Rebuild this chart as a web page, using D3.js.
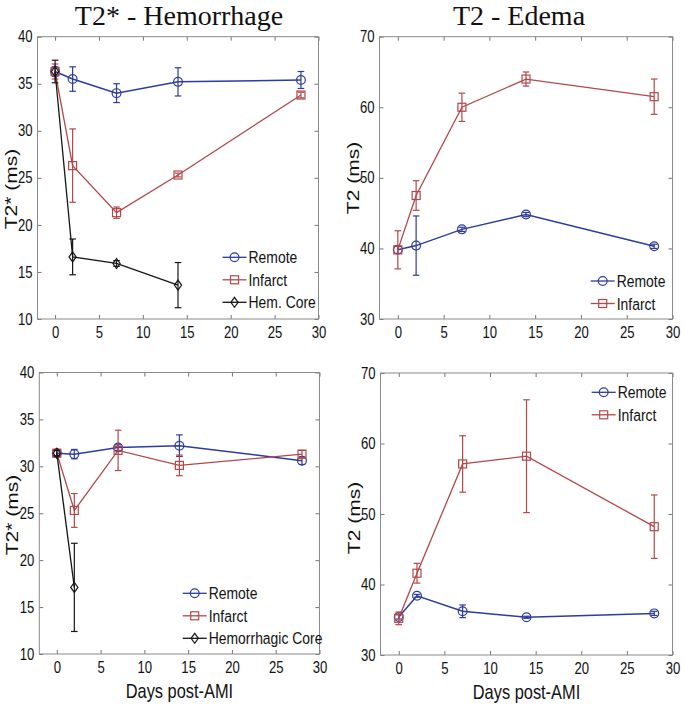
<!DOCTYPE html>
<html><head><meta charset="utf-8">
<script src="https://cdn.jsdelivr.net/npm/d3@7"></script>
<style>
body{margin:0;background:#fff}
svg text{font-family:"Liberation Sans",Arial,sans-serif;fill:#111}
svg text.title{font-family:"Liberation Serif","Times New Roman",serif}
</style></head><body><svg id="c" width="685" height="713"></svg>
<script>
// ---------- data ----------
const days = [0, 2, 7, 14, 28];
const hemDays1 = [0, 2, 7, 14];
const hemDays3 = [0, 2];
const xTicks = [0, 5, 10, 15, 20, 25, 30];
const t2sTicks = [10, 15, 20, 25, 30, 35, 40];
const t2Ticks = [30, 40, 50, 60, 70];

// Top-left: T2* - Hemorrhage
const remote1 = [36.3, 35.5, 34.0, 35.2, 35.4];
const remote1Err = [0.5, 1.3, 1.0, 1.5, 0.9];
const infarct1 = [36.3, 26.3, 21.3, 25.3, 33.8];
const infarct1Err = [0.8, 3.9, 0.6, 0.2, 0.3];
const hem1 = [36.3, 16.6, 15.9, 13.6];
const hem1Err = [1.2, 1.9, 0.3, 2.4];

// Top-right: T2 - Edema
const remote2 = [39.8, 40.4, 42.7, 44.8, 40.3];
const remote2Err = [0.5, 4.2, 0.3, 0.3, 0.3];
const infarct2 = [39.8, 47.5, 60.0, 64.0, 61.5];
const infarct2Err = [2.7, 2.1, 2.0, 1.0, 2.5];

// Bottom-left: T2*
const remote3 = [31.4, 31.3, 32.0, 32.2, 30.6];
const remote3Err = [0.3, 0.5, 0.3, 1.15, 0.4];
const infarct3 = [31.4, 25.3, 31.7, 30.1, 31.3];
const infarct3Err = [0.3, 1.8, 2.15, 1.1, 0.4];
const hem3 = [31.4, 17.1];
const hem3Err = [0.3, 4.7];

// Bottom-right: T2
const remote4 = [35.4, 38.4, 36.2, 35.35, 35.9];
const remote4Err = [0.3, 0.2, 0.9, 0.15, 0.3];
const infarct4 = [35.2, 41.6, 57.1, 58.2, 48.2];
const infarct4Err = [0.9, 1.4, 4.0, 8.0, 4.5];

const titles = ["T2* - Hemorrhage", "T2 - Edema"];
const xLabel = "Days post-AMI";

// ---------- styles ----------
const BLUE = "#2d3c9e", RED = "#b4474a", BLACK = "#161616";
const SQ = 0.82; // horizontal squeeze of the sans-serif text

const svg = d3.select("#c");

function mk(name, color, marker, xs, ys, es) {
  return {name, color, marker, pts: xs.map((x, i) => ({x, y: ys[i], e: es[i]}))};
}

// apply horizontal squeeze keeping the anchor point
function squeeze(sel) {
  sel.each(function () {
    const t = d3.select(this);
    const xx = +(t.attr("x") || 0), yy = +(t.attr("y") || 0);
    t.attr("x", 0).attr("y", 0).attr("transform", `translate(${xx},${yy}) scale(${SQ},1)`);
  });
}

const panels = [
  {box: [37.5, 318.5, 36.7, 319], ydom: [10, 40], yticks: t2sTicks, ylabel: "T2* (ms)", ylabelY: 189,
   title: titles[0], titleX: 179,
   series: [mk("Remote", BLUE, "o", days, remote1, remote1Err), mk("Infarct", RED, "s", days, infarct1, infarct1Err), mk("Hem. Core", BLACK, "d", hemDays1, hem1, hem1Err)],
   legend: {x: 222.5, y: 257.3}},
  {box: [379.5, 672.5, 36.7, 319], ydom: [30, 70], yticks: t2Ticks, ylabel: "T2 (ms)", ylabelY: 178,
   title: titles[1], titleX: 519,
   series: [mk("Remote", BLUE, "o", days, remote2, remote2Err), mk("Infarct", RED, "s", days, infarct2, infarct2Err)],
   legend: {x: 590.7, y: 281}},
  {box: [39.3, 319.5, 372.5, 654], ydom: [10, 40], yticks: t2sTicks, ylabel: "T2* (ms)", ylabelY: 515,
   xlabel: xLabel,
   series: [mk("Remote", BLUE, "o", days, remote3, remote3Err), mk("Infarct", RED, "s", days, infarct3, infarct3Err), mk("Hemorrhagic Core", BLACK, "d", hemDays3, hem3, hem3Err)],
   legend: {x: 182.7, y: 593.3}},
  {box: [380.5, 672.5, 373, 655], ydom: [30, 70], yticks: t2Ticks, ylabel: "T2 (ms)", ylabelY: 518,
   xlabel: xLabel,
   series: [mk("Remote", BLUE, "o", days, remote4, remote4Err), mk("Infarct", RED, "s", days, infarct4, infarct4Err)],
   legend: {x: 591.7, y: 392.3}}
];

function drawMarker(g, type, cx, cy, color) {
  if (type === "o") {
    g.append("circle").attr("cx", cx).attr("cy", cy).attr("r", 4.4)
      .attr("fill", "none").attr("stroke", color).attr("stroke-width", 1.2);
  } else if (type === "s") {
    g.append("rect").attr("x", cx - 4).attr("y", cy - 4).attr("width", 8).attr("height", 8)
      .attr("fill", "none").attr("stroke", color).attr("stroke-width", 1.2);
  } else {
    g.append("path").attr("d", `M${cx},${cy - 5}L${cx + 3.6},${cy}L${cx},${cy + 5}L${cx - 3.6},${cy}Z`)
      .attr("fill", "none").attr("stroke", color).attr("stroke-width", 1.2);
  }
}

panels.forEach(p => {
  const [L, R, T, B] = p.box;
  const x = d3.scaleLinear().domain([-2, 30]).range([L, R]);
  const y = d3.scaleLinear().domain(p.ydom).range([B, T]);
  const g = svg.append("g");

  // axes (MATLAB style: ticks inside, on all four sides)
  const axB = g.append("g").attr("transform", `translate(0,${B})`)
    .call(d3.axisBottom(x).tickValues(xTicks).tickSizeInner(-4).tickSizeOuter(0).tickPadding(8));
  const axT = g.append("g").attr("transform", `translate(0,${T})`)
    .call(d3.axisTop(x).tickValues(xTicks).tickSizeInner(-4).tickSizeOuter(0).tickFormat(""));
  const axL = g.append("g").attr("transform", `translate(${L},0)`)
    .call(d3.axisLeft(y).tickValues(p.yticks).tickSizeInner(-4).tickSizeOuter(0).tickPadding(5));
  const axR = g.append("g").attr("transform", `translate(${R},0)`)
    .call(d3.axisRight(y).tickValues(p.yticks).tickSizeInner(-4).tickSizeOuter(0).tickFormat(""));
  [axB, axT, axL, axR].forEach(a => {
    a.select(".domain").remove();
    a.selectAll(".tick line").attr("stroke", "#777");
    a.selectAll(".tick text").attr("font-size", 16).attr("fill", "#111")
      .style("font-family", '"Liberation Sans",Arial,sans-serif').call(squeeze);
  });
  g.append("rect").attr("x", L).attr("y", T).attr("width", R - L).attr("height", B - T)
    .attr("fill", "none").attr("stroke", "#8a8a8a").attr("stroke-width", 1);

  // series
  const line = d3.line().x(d => x(d.x)).y(d => y(d.y));
  p.series.forEach(s => {
    const sg = g.append("g");
    sg.append("path").datum(s.pts).attr("d", line).attr("fill", "none")
      .attr("stroke", s.color).attr("stroke-width", s.color === BLUE ? 1.5 : 1.3);
    s.pts.forEach(d => {
      const cx = x(d.x), y0 = y(d.y - d.e), y1 = y(d.y + d.e);
      sg.append("line").attr("x1", cx).attr("x2", cx).attr("y1", y0).attr("y2", y1)
        .attr("stroke", s.color).attr("stroke-width", 1.2);
      [y0, y1].forEach(yy => sg.append("line").attr("x1", cx - 3.3).attr("x2", cx + 3.3)
        .attr("y1", yy).attr("y2", yy).attr("stroke", s.color).attr("stroke-width", 1.2));
      drawMarker(sg, s.marker, cx, y(d.y), s.color);
    });
  });

  // legend
  p.series.forEach((s, i) => {
    const ly = p.legend.y + i * 22.5;
    const lx = p.legend.x;
    g.append("line").attr("x1", lx).attr("x2", lx + 24).attr("y1", ly).attr("y2", ly)
      .attr("stroke", s.color).attr("stroke-width", 1.3);
    drawMarker(g, s.marker, lx + 12, ly, s.color);
    g.append("text").attr("x", lx + 26).attr("y", ly).attr("dy", "0.36em")
      .attr("font-size", 17).text(s.name).call(squeeze);
  });

  // labels
  g.append("text").attr("transform", `translate(${L - 21},${p.ylabelY}) rotate(-90) scale(1,${SQ})`)
    .attr("text-anchor", "middle").attr("font-size", 21).text(p.ylabel);
  if (p.title) {
    g.append("text").attr("class", "title").attr("x", p.titleX).attr("y", 25)
      .attr("text-anchor", "middle").attr("font-size", 28).text(p.title);
  }
  if (p.xlabel) {
    g.append("text").attr("x", (L + R) / 2).attr("y", B + 44)
      .attr("text-anchor", "middle").attr("font-size", 20).text(p.xlabel).call(squeeze);
  }
});
</script></body></html>
